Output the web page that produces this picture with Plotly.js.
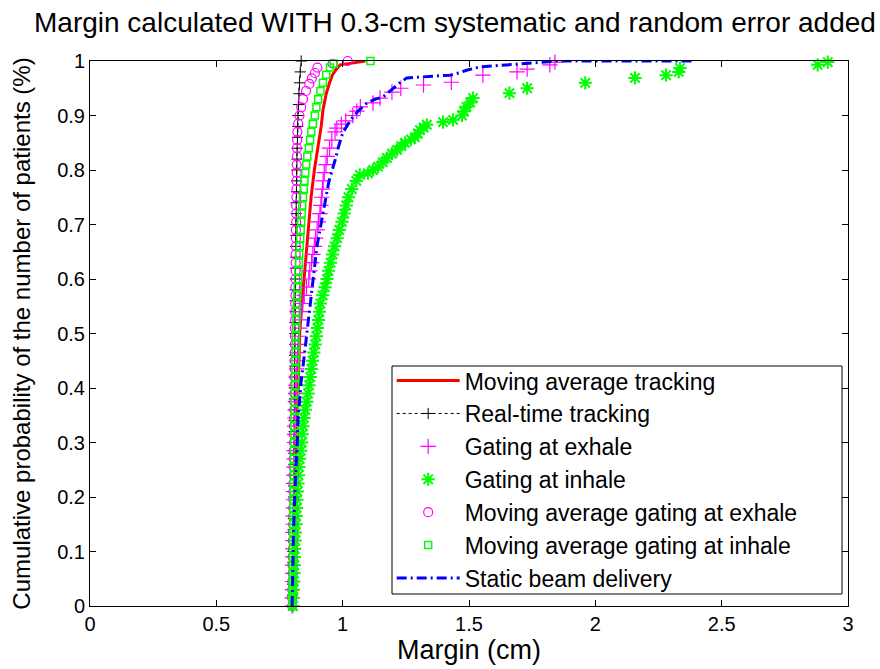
<!DOCTYPE html>
<html>
<head>
<meta charset="utf-8">
<script src="https://cdn.plot.ly/plotly-3.0.1.min.js"></script>
<style>
  html, body { margin: 0; padding: 0; background: #ffffff; }
  #chart { width: 880px; height: 669px; }
</style>
</head>
<body>
<div id="chart"></div>
<script>
// ---- Data ----
// Moving average tracking (red solid line)
const maTrackY = [0, 0.05, 0.1, 0.15, 0.2, 0.25, 0.3, 0.35, 0.4, 0.45, 0.5, 0.55, 0.6, 0.65, 0.7, 0.75, 0.8, 0.85, 0.88, 0.91, 0.94, 0.96, 0.975, 0.985, 0.993, 0.997, 1.0];
const maTrackX = [0.800, 0.803, 0.806, 0.808, 0.810, 0.813, 0.816, 0.819, 0.822, 0.826, 0.830, 0.838, 0.847, 0.857, 0.867, 0.875, 0.888, 0.905, 0.915, 0.922, 0.935, 0.948, 0.960, 0.975, 0.990, 1.05, 1.09];

// Real-time tracking (black dotted + markers)
const rtTrackY = [0, 0.02, 0.04, 0.06, 0.08, 0.10, 0.12, 0.14, 0.16, 0.18, 0.20, 0.22, 0.24, 0.26, 0.28, 0.30, 0.32, 0.34, 0.36, 0.38, 0.40, 0.42, 0.44, 0.46, 0.48, 0.50, 0.52, 0.54, 0.56, 0.58, 0.60, 0.62, 0.64, 0.66, 0.68, 0.70, 0.72, 0.74, 0.76, 0.78, 0.80, 0.82, 0.84, 0.86, 0.88, 0.90, 0.92, 0.94, 0.96, 0.98, 1.00];
const rtTrackX = [0.800, 0.801, 0.802, 0.802, 0.803, 0.803, 0.804, 0.804, 0.805, 0.805, 0.806, 0.806, 0.807, 0.807, 0.807, 0.808, 0.808, 0.808, 0.809, 0.809, 0.809, 0.810, 0.810, 0.810, 0.811, 0.811, 0.811, 0.812, 0.812, 0.812, 0.813, 0.813, 0.814, 0.814, 0.815, 0.815, 0.816, 0.816, 0.817, 0.818, 0.818, 0.819, 0.820, 0.821, 0.822, 0.823, 0.825, 0.827, 0.829, 0.832, 0.836];

// Gating at exhale (magenta +)
const gateExY = [0, 0.015, 0.03, 0.045, 0.06, 0.075, 0.09, 0.105, 0.12, 0.135,
  0.15, 0.165, 0.18, 0.195, 0.21, 0.225, 0.24, 0.255, 0.27, 0.285,
  0.30, 0.315, 0.33, 0.345, 0.36, 0.375, 0.39, 0.405, 0.42, 0.435,
  0.45, 0.465, 0.48, 0.495, 0.51, 0.525, 0.54, 0.555, 0.57, 0.585,
  0.60, 0.615, 0.63, 0.645, 0.66, 0.675, 0.69, 0.705, 0.72, 0.735,
  0.75, 0.765, 0.78, 0.795, 0.81, 0.825, 0.84, 0.855, 0.87,
  0.877, 0.884, 0.89, 0.90, 0.908, 0.916, 0.923, 0.932, 0.943, 0.950, 0.956, 0.961, 0.974, 0.980, 0.985, 0.993, 0.998];
const gateExX = [0.800, 0.800, 0.801, 0.801, 0.802, 0.802, 0.802, 0.803, 0.803, 0.803,
  0.804, 0.804, 0.805, 0.805, 0.806, 0.806, 0.806, 0.807, 0.808, 0.808,
  0.809, 0.810, 0.810, 0.811, 0.812, 0.813, 0.814, 0.815, 0.816, 0.818,
  0.820, 0.822, 0.824, 0.826, 0.829, 0.832, 0.836, 0.842, 0.848, 0.857,
  0.866, 0.870, 0.877, 0.882, 0.888, 0.893, 0.899, 0.904, 0.910, 0.914,
  0.917, 0.920, 0.923, 0.927, 0.934, 0.939, 0.948, 0.957, 0.970,
  0.977, 0.995, 1.012, 1.04, 1.056, 1.07, 1.12, 1.148, 1.195, 1.23, 1.32, 1.43, 1.555, 1.69, 1.73, 1.82, 1.84];

// Gating at inhale (green *)
const gateInY = [0, 0.015, 0.03, 0.045, 0.06, 0.075, 0.09, 0.105, 0.12, 0.135,
  0.15, 0.165, 0.18, 0.195, 0.21, 0.225, 0.24, 0.255, 0.27, 0.285,
  0.30, 0.315, 0.33, 0.345, 0.36, 0.375, 0.39, 0.405, 0.42, 0.435,
  0.45, 0.465, 0.48, 0.495, 0.51, 0.525, 0.54, 0.555, 0.57, 0.585,
  0.60, 0.615, 0.63, 0.645, 0.66, 0.675, 0.69, 0.705, 0.72, 0.735,
  0.75, 0.765, 0.78,
  0.791, 0.794, 0.80, 0.806, 0.814, 0.822, 0.83, 0.837, 0.844, 0.85, 0.856, 0.86, 0.867, 0.873, 0.878, 0.883, 0.888, 0.892, 0.90, 0.908, 0.916, 0.924, 0.932, 0.941, 0.95, 0.96, 0.969, 0.974, 0.98, 0.987, 0.993, 0.998];
const gateInX = [0.803, 0.804, 0.805, 0.806, 0.807, 0.808, 0.809, 0.810, 0.812, 0.813,
  0.815, 0.816, 0.818, 0.819, 0.821, 0.823, 0.825, 0.827, 0.830, 0.834,
  0.838, 0.840, 0.843, 0.847, 0.852, 0.858, 0.863, 0.867, 0.872, 0.876,
  0.881, 0.886, 0.891, 0.896, 0.900, 0.904, 0.908, 0.912, 0.921, 0.930,
  0.938, 0.944, 0.952, 0.960, 0.968, 0.978, 0.987, 0.997, 1.006, 1.014,
  1.023, 1.036, 1.054,
  1.068, 1.10, 1.12, 1.14, 1.158, 1.175, 1.195, 1.215, 1.232, 1.247, 1.27, 1.286, 1.298, 1.306, 1.32, 1.333, 1.397, 1.437, 1.472, 1.48, 1.49, 1.505, 1.516, 1.66, 1.73, 1.96, 2.157, 2.28, 2.33, 2.335, 2.88, 2.92];

// Moving average gating at exhale (magenta o)
const maGateExY = [0, 0.015, 0.03, 0.045, 0.06, 0.075, 0.09, 0.105, 0.12, 0.135,
  0.15, 0.165, 0.18, 0.195, 0.21, 0.225, 0.24, 0.255, 0.27, 0.285,
  0.30, 0.315, 0.33, 0.345, 0.36, 0.375, 0.39, 0.405, 0.42, 0.435,
  0.45, 0.465, 0.48, 0.495, 0.51, 0.525, 0.54, 0.555, 0.57, 0.585,
  0.60, 0.615, 0.63, 0.645, 0.66, 0.675, 0.69, 0.705, 0.72, 0.735,
  0.75, 0.765, 0.78, 0.795, 0.81, 0.825, 0.84, 0.855, 0.87,
  0.885, 0.90, 0.915, 0.93, 0.945, 0.958, 0.968, 0.978, 0.988, 0.995, 1.0];
const maGateExX = [0.800, 0.800, 0.801, 0.801, 0.802, 0.802, 0.802, 0.803, 0.803, 0.803,
  0.804, 0.804, 0.804, 0.805, 0.805, 0.805, 0.806, 0.806, 0.806, 0.806,
  0.807, 0.807, 0.807, 0.808, 0.808, 0.808, 0.809, 0.809, 0.809, 0.810,
  0.810, 0.810, 0.811, 0.811, 0.811, 0.812, 0.812, 0.812, 0.813, 0.813,
  0.813, 0.814, 0.814, 0.814, 0.815, 0.815, 0.815, 0.816, 0.816, 0.816,
  0.817, 0.817, 0.818, 0.818, 0.818, 0.819, 0.819, 0.820, 0.821,
  0.824, 0.829, 0.836, 0.843, 0.855, 0.868, 0.878, 0.890, 0.900, 0.960, 1.02];

// Moving average gating at inhale (green squares)
const maGateInY = [0, 0.015, 0.03, 0.045, 0.06, 0.075, 0.09, 0.105, 0.12, 0.135,
  0.15, 0.165, 0.18, 0.195, 0.21, 0.225, 0.24, 0.255, 0.27, 0.285,
  0.30, 0.315, 0.33, 0.345, 0.36, 0.375, 0.39, 0.405, 0.42, 0.435,
  0.45, 0.465, 0.48, 0.495, 0.51, 0.525, 0.54, 0.555, 0.57, 0.585,
  0.60, 0.615, 0.63, 0.645, 0.66, 0.675, 0.69, 0.705, 0.72, 0.735,
  0.75, 0.765, 0.78, 0.795, 0.81, 0.825, 0.84, 0.855, 0.87,
  0.885, 0.90, 0.915, 0.93, 0.945, 0.96, 0.975, 0.988, 0.995, 1.0];
const maGateInX = [0.801, 0.801, 0.802, 0.802, 0.803, 0.803, 0.803, 0.804, 0.804, 0.804,
  0.805, 0.805, 0.805, 0.806, 0.806, 0.806, 0.807, 0.807, 0.807, 0.808,
  0.809, 0.809, 0.809, 0.810, 0.810, 0.811, 0.811, 0.812, 0.812, 0.813,
  0.813, 0.814, 0.815, 0.815, 0.816, 0.817, 0.818, 0.819, 0.820, 0.822,
  0.824, 0.825, 0.827, 0.828, 0.830, 0.832, 0.834, 0.836, 0.838, 0.840,
  0.843, 0.846, 0.849, 0.852, 0.856, 0.860, 0.866, 0.871, 0.876,
  0.882, 0.890, 0.896, 0.903, 0.912, 0.922, 0.935, 0.950, 0.965, 1.11];

// Static beam delivery (blue dash-dot)
const staticY = [0, 0.05, 0.1, 0.127, 0.17, 0.218, 0.26, 0.305, 0.341, 0.378, 0.41, 0.439, 0.47, 0.50, 0.53, 0.556, 0.598, 0.63, 0.659, 0.685, 0.708, 0.74, 0.78, 0.80, 0.818, 0.845, 0.868, 0.883, 0.897, 0.91, 0.923, 0.93, 0.934, 0.942, 0.95, 0.96, 0.969, 0.971, 0.974, 0.978, 0.983, 0.989, 0.993, 0.998, 1.0, 1.0];
const staticX = [0.800, 0.801, 0.804, 0.805, 0.808, 0.811, 0.816, 0.821, 0.823, 0.830, 0.835, 0.843, 0.851, 0.859, 0.865, 0.871, 0.883, 0.892, 0.898, 0.908, 0.918, 0.930, 0.946, 0.960, 0.970, 0.985, 1.000, 1.020, 1.040, 1.065, 1.096, 1.13, 1.16, 1.18, 1.20, 1.227, 1.254, 1.345, 1.425, 1.46, 1.49, 1.54, 1.65, 1.82, 1.85, 2.39];

// Axis ticks
const xTickVals = [0, 0.5, 1, 1.5, 2, 2.5, 3];
const xTickText = ['0', '0.5', '1', '1.5', '2', '2.5', '3'];
const yTickVals = [0, 0.1, 0.2, 0.3, 0.4, 0.5, 0.6, 0.7, 0.8, 0.9, 1];
const yTickText = ['0', '0.1', '0.2', '0.3', '0.4', '0.5', '0.6', '0.7', '0.8', '0.9', '1'];

const FONT = 'Liberation Sans, Arial, sans-serif';

const traces = [
  {
    name: 'Moving average tracking', x: maTrackX, y: maTrackY, type: 'scatter', mode: 'lines',
    line: {color: '#ff0000', width: 3}, cliponaxis: false
  },
  {
    name: 'Real-time tracking', x: rtTrackX, y: rtTrackY, type: 'scatter', mode: 'lines+markers',
    line: {color: '#000000', width: 1, dash: 'dot'},
    marker: {symbol: 'cross-thin-open', size: 8, color: '#000000', line: {color: '#000000', width: 1}},
    cliponaxis: false
  },
  {
    name: 'Gating at exhale', x: gateExX, y: gateExY, type: 'scatter', mode: 'markers',
    marker: {symbol: 'cross-thin-open', size: 11, color: '#ff00ff', line: {color: '#ff00ff', width: 1.2}},
    cliponaxis: false
  },
  {
    name: 'Gating at inhale', x: gateInX, y: gateInY, type: 'scatter', mode: 'markers',
    marker: {symbol: 'asterisk-open', size: 11, color: '#00ff00', line: {color: '#00ff00', width: 2}},
    cliponaxis: false
  },
  {
    name: 'Moving average gating at exhale', x: maGateExX, y: maGateExY, type: 'scatter', mode: 'markers',
    marker: {symbol: 'circle-open', size: 9, color: '#ff00ff', line: {color: '#ff00ff', width: 1.2}},
    cliponaxis: false
  },
  {
    name: 'Moving average gating at inhale', x: maGateInX, y: maGateInY, type: 'scatter', mode: 'markers',
    marker: {symbol: 'square-open', size: 7, color: '#00ff00', line: {color: '#00ff00', width: 1.5}},
    cliponaxis: false
  },
  {
    name: 'Static beam delivery', x: staticX, y: staticY, type: 'scatter', mode: 'lines',
    line: {color: '#0000ff', width: 3, dash: '10px,4px,2px,4px'}, cliponaxis: false
  }
];

const layout = {
  width: 880, height: 669,
  paper_bgcolor: '#ffffff', plot_bgcolor: '#ffffff',
  margin: {l: 90, r: 32, t: 61, b: 63},
  font: {family: FONT, color: '#000000', size: 20},
  title: {
    text: 'Margin calculated WITH 0.3-cm systematic and random error added',
    font: {family: FONT, size: 28, color: '#000000'},
    xref: 'container', x: 0.517, xanchor: 'center',
    yref: 'container', y: 0.967, yanchor: 'middle'
  },
  xaxis: {
    range: [0, 3], tickvals: xTickVals, ticktext: xTickText,
    ticks: 'inside', ticklen: 6, tickwidth: 1, tickcolor: '#000000',
    showline: true, linecolor: '#000000', linewidth: 1, mirror: 'ticks',
    showgrid: false, zeroline: false,
    tickfont: {family: FONT, size: 20, color: '#000000'},
    title: {text: 'Margin (cm)', font: {family: FONT, size: 27, color: '#000000'}, standoff: 4}
  },
  yaxis: {
    range: [0, 1], tickvals: yTickVals, ticktext: yTickText,
    ticks: 'inside', ticklen: 6, tickwidth: 1, tickcolor: '#000000',
    showline: true, linecolor: '#000000', linewidth: 1, mirror: 'ticks',
    showgrid: false, zeroline: false,
    tickfont: {family: FONT, size: 20, color: '#000000'},
    title: {text: 'Cumulative probability of the number of patients (%)', font: {family: FONT, size: 24, color: '#000000'}, standoff: 19}
  },
  // legend frame (drawn as a shape so its size matches the reference box)
  shapes: [{
    type: 'rect', xref: 'paper', yref: 'paper', layer: 'above',
    x0: (392 - 90) / 758, x1: (842 - 90) / 758,
    y0: (606 - 594) / 545, y1: (606 - 366) / 545,
    fillcolor: '#ffffff', line: {color: '#000000', width: 1}
  }],
  showlegend: true,
  legend: {
    x: 0.398, y: 0.453, xanchor: 'left', yanchor: 'top',
    bgcolor: 'rgba(0,0,0,0)', bordercolor: '#000000', borderwidth: 0,
    font: {family: FONT, size: 23, color: '#000000'},
    itemwidth: 63, tracegroupgap: 0
  }
};

Plotly.newPlot('chart', traces, layout, {displayModeBar: false, staticPlot: true});
</script>
</body>
</html>
